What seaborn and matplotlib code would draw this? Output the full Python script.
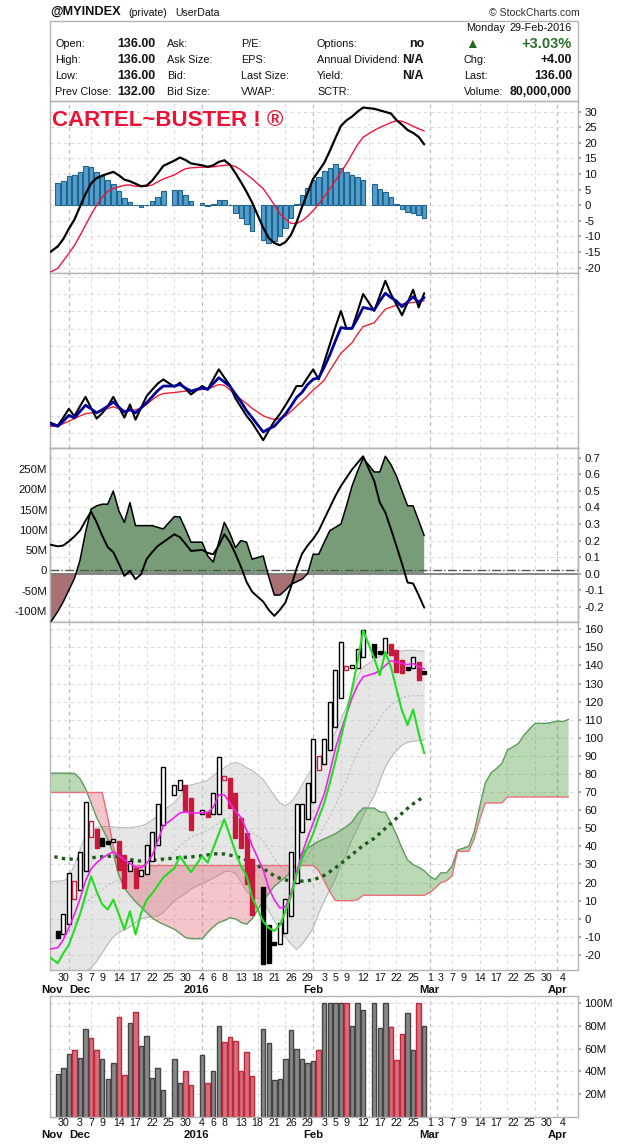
import numpy as np
import pandas as pd
import matplotlib
matplotlib.use("Agg")
import matplotlib.pyplot as plt
import matplotlib.transforms as mtransforms
from matplotlib.patches import Rectangle
import seaborn as sns

# ======================= DATA =======================
HOLIDAYS = ["2015-11-26", "2015-12-25", "2016-01-01", "2016-01-18", "2016-02-15"]
ORIGIN = "2015-11-30"
IND_START, LAST_DAY = "2015-11-25", "2016-02-29"
FUTURE_START, FUTURE_N = "2016-03-01", 26

# header texts
title_sym = "@MYINDEX"
title_sub = ["(private)", "UserData"]
hdr_date = ["Monday", "29-Feb-2016"]
col1_lab = ["Open:", "High:", "Low:", "Prev Close:"]
col1_val = ["136.00", "136.00", "136.00", "132.00"]
col2_lab = ["Ask:", "Ask Size:", "Bid:", "Bid Size:"]
col3_lab = ["P/E:", "EPS:", "Last Size:", "VWAP:"]
col4_lab = ["Options:", "Annual Dividend:", "Yield:", "SCTR:"]
col4_val = ["no", "N/A", "N/A", ""]
col5_lab = ["", "Chg:", "Last:", "Volume:"]
col5_val = ["+3.03%", "+4.00", "136.00", "80,000,000"]
banner = "CARTEL~BUSTER ! \u00ae"

# ---- indicator series: one value per trading day 2015-11-25 .. 2016-02-29 (64) ----
macd_line = [
    -15.8,
    -13.2,
    -10.8, -7.5, -4.6, -0.4, 3.6,
    7.0, 8.7, 9.5, 10.1, 10.7,
    9.6, 8.2, 7.7, 6.9, 6.1,
    6.3, 7.9, 10.2, 12.6,
    14.3, 15.3, 14.5, 13.4,
    12.8, 12.3, 12.8, 13.9, 14.4,
    13.0, 10.3, 7.4, 4.3, 0.9,
    -7.2, -10.5, -12.1, -12.8,
    -11.8, -9.5, -5.5, -0.5, 4.0,
    8.5, 11.0, 13.6, 17.4, 21.5,
    25.4, 27.2, 28.4, 30.0, 31.3,
    30.9, 30.4, 29.9, 29.4,
    27.3, 25.8, 24.1, 23.2, 21.9,
    19.5]
macd_signal = [
    -22.0,
    -20.2,
    -17.8, -15.4, -12.9, -9.7, -6.4,
    -3.0, 0.0, 2.6, 4.5, 5.4,
    5.9, 6.4, 6.5, 6.1, 6.0,
    6.1, 6.5, 7.5, 8.4,
    9.7, 10.8, 11.7, 12.0,
    12.2, 12.2, 12.3, 12.6, 12.8,
    12.9, 12.4, 11.3, 9.9, 8.5,
    5.3, 2.8, 0.1, -2.7,
    -4.4, -5.8, -5.8, -5.0, -3.5,
    -1.7, 0.4, 2.8, 5.3, 7.9,
    10.6, 13.3, 16.4, 19.4, 21.8,
    24.0, 24.9, 25.7, 26.5,
    27.1, 26.9, 26.2, 25.3, 24.5,
    23.8]
p2_black = [
    6.8,
    4.4,
    9.0, 14.0, 9.8, 15.5, 20.9,
    14.5, 8.4, 11.5, 15.5, 20.9,
    15.0, 9.0, 16.5, 7.8, 14.5,
    21.3, 25.0, 28.5, 30.9,
    26.7, 29.0, 25.5, 22.3,
    27.1, 25.2, 31.0, 36.7, 32.0,
    27.5, 20.0, 15.0, 10.0, 6.0,
    -4.0, 1.5, 6.9, 11.0,
    16.0, 21.3, 27.1, 27.1, 32.0,
    36.7, 30.9, 41.0, 51.0, 61.0,
    70.3, 60.2, 60.2, 70.0, 80.0,
    70.3, 79.0, 87.6, 80.0,
    74.0, 67.8, 75.0, 82.5, 72.3,
    80.5]
p2_blue = [
    6.0,
    4.0,
    7.0, 10.3, 8.8, 12.5, 16.1,
    14.0, 11.7, 13.5, 15.5, 18.0,
    15.0, 12.1, 13.6, 11.7, 14.5,
    17.5, 21.0, 24.5, 27.1,
    27.1, 28.0, 26.0, 24.2,
    26.1, 25.2, 28.5, 31.9, 29.5,
    27.0, 22.5, 18.0, 13.0, 9.0,
    0.7, 2.5, 4.0, 7.5,
    11.0, 15.5, 20.5, 23.5, 28.0,
    31.0, 31.9, 38.0, 45.0, 53.0,
    60.7, 60.2, 60.3, 66.0, 72.3,
    70.9, 76.0, 80.5, 78.0,
    76.0, 72.7, 75.5, 78.4, 75.2,
    78.0]
p2_red = [
    4.0,
    4.0,
    5.5, 6.9, 8.4, 9.9, 11.3,
    11.6, 12.0, 13.0, 14.2, 15.2,
    14.0, 13.0, 13.0, 13.4, 14.5,
    16.5, 19.2, 21.5, 22.8,
    23.4, 23.8, 24.2, 24.7,
    25.1, 25.6, 26.6, 28.0, 27.5,
    25.0, 22.0, 19.5, 17.0, 14.3,
    10.0, 8.8, 7.9, 8.5,
    9.8, 12.5, 15.5, 18.5, 21.5,
    24.8, 27.5, 30.5, 36.0, 41.0,
    46.0, 49.0, 52.0, 57.0, 61.3,
    63.5, 67.5, 71.3, 72.5,
    73.6, 74.2, 74.8, 75.2, 75.7,
    76.1]
p3_area = [
    -0.33,
    -0.23,
    -0.17, -0.10, -0.03, 0.08, 0.25,
    0.39, 0.41, 0.42, 0.42, 0.50,
    0.38, 0.31, 0.43, 0.29, 0.29,
    0.29, 0.29, 0.28, 0.27,
    0.345, 0.343, 0.27, 0.19,
    0.19, 0.107, 0.07, 0.19, 0.31,
    0.244, 0.157, 0.20, 0.19, 0.087,
    0.107, -0.02, -0.13, -0.13,
    -0.10, -0.065, -0.05, -0.034, 0.0,
    0.117, 0.117, 0.19, 0.26, 0.28,
    0.30, 0.41, 0.53, 0.62, 0.70,
    0.615, 0.615, 0.71, 0.66,
    0.59, 0.50, 0.41, 0.41, 0.32,
    0.23]
p3_line = [
    0.18,
    0.165,
    0.17, 0.195, 0.225, 0.26, 0.32,
    0.375, 0.31, 0.23, 0.16, 0.13,
    0.06, -0.014, 0.016, -0.034, -0.004,
    0.087, 0.13, 0.167, 0.19,
    0.238, 0.22, 0.18, 0.137,
    0.143, 0.125, 0.117, 0.17, 0.238,
    0.19, 0.12, 0.04, -0.05, -0.11,
    -0.17, -0.22, -0.256, -0.22,
    -0.175, -0.08, 0.03, 0.12, 0.17,
    0.21, 0.26, 0.33, 0.40, 0.47,
    0.53, 0.58, 0.63, 0.67, 0.71,
    0.56, 0.43, 0.37, 0.27,
    0.167, 0.06, -0.054, -0.06, -0.13,
    -0.206]
bb_upper = [
    20.5,
    20.8,
    21.0, 22.5, 30.0, 38.0, 46.5,
    49.5, 50.5, 51.0, 51.0, 50.8,
    50.5, 50.3, 50.3, 50.8, 51.3,
    52.5, 54.5, 57.0, 60.0,
    64.0, 68.0, 72.0, 74.0,
    75.5, 76.5, 79.0, 81.5, 83.5,
    85.5, 86.4, 85.5, 83.5, 82.0,
    77.0, 72.5, 68.0, 64.0,
    62.5, 64.5, 68.5, 74.0, 79.0,
    84.0, 88.0, 93.0, 97.0, 103.0,
    110.0, 117.0, 126.0, 134.0, 139.0,
    143.0, 145.0, 146.6, 147.0,
    147.5, 148.0, 148.4, 148.4, 148.0,
    147.9]
bb_lower = [
    -48.0,
    -44.0,
    -41.0, -38.0, -35.0, -32.0, -29.5,
    -27.0, -23.5, -19.0, -14.0, -10.0,
    -7.5, -6.0, -4.5, -2.0, 0.0,
    0.8, 1.2, 1.5, 3.5,
    10.0, 12.0, 14.0, 16.5,
    19.5, 21.0, 22.5, 24.0, 26.0,
    26.3, 25.0, 20.5, 15.0, 12.5,
    10.0, 4.5, -1.0, -6.0,
    -10.0, -14.0, -17.0, -14.0, -10.0,
    -5.0, 3.0, 10.0, 16.0, 22.0,
    30.0, 36.0, 44.0, 50.0, 57.0,
    68.0, 76.0, 84.0, 89.0,
    93.0, 96.0, 97.5, 98.0, 98.5,
    98.8]
bb_mid = [
    -14.0,
    -11.6,
    -10.0, -7.8, -2.5, 3.0, 8.5,
    11.3, 13.5, 16.0, 18.5, 20.4,
    21.5, 22.2, 23.0, 24.4, 25.7,
    26.7, 27.9, 29.3, 31.8,
    37.0, 40.0, 43.0, 45.3,
    47.5, 48.8, 50.8, 52.8, 54.8,
    56.0, 55.7, 53.0, 49.3, 47.3,
    43.5, 38.5, 33.5, 29.0,
    26.3, 25.3, 25.8, 30.0, 34.5,
    39.5, 45.5, 51.5, 56.5, 62.5,
    70.0, 76.5, 85.0, 92.0, 98.0,
    105.5, 110.5, 115.3, 118.0,
    120.3, 122.0, 123.0, 123.2, 123.3,
    123.4]
ma_fast = [
    -17.0,
    -16.0,
    -11.5, -5.0, 2.5, 11.0, 21.0,
    27.5, 31.0, 33.5, 35.5, 37.0,
    35.0, 32.5, 30.5, 28.5, 28.3,
    30.5, 35.0, 43.0, 51.3,
    56.0, 58.5, 59.0, 58.5,
    58.5, 58.8, 61.5, 68.5, 68.5,
    64.0, 59.5, 56.0, 49.0, 40.5,
    27.0, 17.0, 10.5, 6.0,
    6.5, 14.0, 26.0, 36.0, 45.0,
    53.0, 61.0, 69.0, 81.0, 94.0,
    104.0, 113.0, 122.0, 129.0, 133.7,
    135.6, 137.0, 140.0, 142.5,
    142.0, 141.0, 140.5, 141.0, 139.5,
    138.0]
green_line = [
    -20.0,
    -24.5,
    -19.0, -14.4, -6.0, 2.5, 13.0,
    23.5, 15.0, 8.0, 5.1, 10.6,
    2.5, -5.9, 4.2, -8.7, 3.0,
    10.3, 14.0, 18.3, 22.8,
    28.0, 34.6, 30.0, 25.8,
    34.6, 31.0, 39.0, 47.0, 55.0,
    46.0, 37.0, 29.0, 24.0, 12.0,
    -1.5, -5.0, -6.8, -3.5,
    4.0, 12.5, 24.0, 33.0, 40.0,
    47.0, 56.0, 64.0, 75.0, 87.0,
    100.0, 113.0, 127.0, 142.0, 159.4,
    144.0, 134.6, 147.5, 139.2,
    127.0, 115.0, 107.1, 115.7, 102.5,
    91.5]
ma_slow = [
    34.6,
    34.0,
    33.3, 33.0, 32.9, 33.0, 33.3,
    33.7, 34.0, 34.3, 34.5, 34.6,
    34.2, 33.5, 32.8, 32.2, 31.9,
    31.9, 32.2, 32.6, 33.0,
    33.5, 33.7, 34.0, 34.2,
    34.8, 35.3, 35.8, 36.0, 35.8,
    35.2, 34.5, 33.6, 32.4, 31.0,
    27.8, 25.7, 23.8, 22.4,
    21.5, 21.0, 20.8, 20.8, 21.0,
    21.6, 22.6, 24.0, 26.0, 28.2,
    30.5, 33.0, 35.5, 38.0, 40.5,
    44.5, 47.2, 50.0, 52.7,
    55.5, 58.3, 61.0, 63.5, 65.6,
    67.3]
senkou_a = [
    80.5,
    80.5,
    80.5, 80.5, 80.3, 77.5, 72.0,
    64.0, 56.0, 50.0, 44.0, 36.0,
    24.0, 17.0, 13.0, 9.5, 6.5,
    3.5, 0.5, -1.5, -3.0,
    -5.8, -8.0, -10.4, -11.0,
    -11.0, -7.5, -4.5, -2.0, -1.0,
    0.5, 0.0, -2.0, -3.0, 0.0,
    10.0, 14.0, 18.0, 20.5,
    23.0, 25.5, 31.0, 36.5, 39.0,
    41.0, 42.8, 44.2, 45.6, 47.0,
    49.0, 51.0, 53.5, 58.0, 61.2,
    61.2, 59.0, 58.8, 53.0,
    46.5, 39.0, 32.5, 30.0, 28.5,
    26.5]
senkou_b = [
    69.8,
    69.8,
    69.8, 69.8, 69.8, 69.8, 69.8,
    69.8, 69.8, 69.8, 56.0, 40.0,
    29.4, 29.4, 29.4, 29.4, 29.4,
    29.4, 29.4, 29.4, 29.4,
    29.4, 29.4, 29.4, 29.4,
    29.4, 29.4, 29.4, 29.4, 29.4,
    29.4, 29.4, 29.4, 29.4, 29.4,
    29.4, 29.4, 29.4, 29.4,
    29.4, 29.4, 29.4, 29.4, 29.4,
    29.4, 26.5, 21.0, 15.0, 10.0,
    10.0, 10.0, 10.0, 10.5, 13.0,
    13.0, 13.0, 13.0, 13.0,
    13.0, 13.0, 13.0, 13.0, 13.0,
    13.0]
# projected cloud, 26 weekdays from 2016-03-01
senkou_a_future = [23.5, 21.7, 25.4, 25.4, 29.0, 38.0, 39.0, 40.0, 48.0, 62.0,
                   75.0, 80.5, 83.0, 86.0, 93.3, 95.0, 97.0, 101.6, 105.0, 108.0,
                   108.0, 108.0, 108.5, 109.3, 109.0, 110.2]
senkou_b_future = [14.5, 17.0, 20.0, 21.0, 23.6, 37.3, 37.3, 37.3, 44.0, 55.0,
                   64.0, 64.0, 64.0, 64.0, 67.3, 67.3, 67.3, 67.3, 67.3, 67.3,
                   67.3, 67.3, 67.3, 67.3, 67.3, 67.3]

# ---- price / volume: one value per trading day 2015-11-27 .. 2016-02-29 (63) ----
open_px = [
    -7.0,
    -8.6, -3.0, 11.0, 16.0, 26.5,
    45.0, 49.6, 44.7, 42.3, 42.3,
    42.8, 35.5, 26.3, 28.0, 23.5,
    25.0, 31.8, 41.0, 52.0,
    68.5, 71.3, 74.0, 66.7,
    58.0, 58.8, 58.0, 58.0, 76.5,
    77.8, 69.5, 55.7, 47.3, 33.1,
    17.7, -3.6, -13.7, -13.7,
    -7.6, 1.5, 19.5, 48.0, 55.0,
    64.3, 82.0, 85.6, 93.0, 105.8,
    121.8, 137.4, 138.5, 138.7, 144.4,
    152.0, 148.0, 146.6, 151.7,
    148.4, 142.9, 138.7, 138.7, 142.0,
    136.0]
close_px = [
    -10.4,
    2.4, 25.4, 20.8, 37.0, 64.5,
    54.0, 39.0, 40.1, 42.3, 44.1,
    27.2, 17.1, 31.8, 17.1, 26.8,
    41.0, 47.8, 63.4, 84.1,
    74.0, 76.8, 59.3, 49.3,
    59.9, 56.2, 69.5, 89.3, 79.0,
    61.3, 44.5, 39.2, 19.0, 1.9,
    -25.1, -24.6, -13.7, -2.5,
    11.1, 36.8, 63.4, 63.4, 75.3,
    99.4, 89.7, 99.4, 119.6, 137.4,
    152.7, 139.6, 140.0, 149.3, 159.4,
    144.4, 146.6, 155.4, 145.7,
    136.5, 135.6, 138.0, 144.4, 132.0,
    136.0]
down_day = [  # 1 = closed below previous close (red)
    0,
    0, 0, 1, 0, 0,
    1, 1, 0, 0, 0,
    1, 1, 0, 1, 0,
    0, 0, 0, 0,
    0, 0, 1, 1,
    0, 1, 0, 0, 1,
    1, 1, 1, 1, 1,
    0, 0, 0, 0,
    0, 0, 0, 0, 0,
    0, 1, 0, 0, 0,
    0, 1, 0, 0, 0,
    0, 0, 0, 1,
    1, 1, 0, 0, 1,
    0]
volume_m = [
    38,
    43, 55, 59, 52, 77,
    69, 59, 51, 33, 47,
    88, 37, 82, 92, 62,
    71, 34, 43, 24,
    51, 30, 40, 28,
    54, 30, 40, 80, 66,
    70, 67, 40, 57, 36,
    77, 65, 32, 33,
    51, 76, 60, 51, 47,
    49, 59, 100, 100, 100,
    100, 100, 80, 100, 94,
    100, 78, 100, 79,
    50, 73, 91, 59, 100,
    80]
macd_hist = [
    7.0,
    7.9, 9.5, 9.8, 10.8, 12.6,
    12.3, 10.8, 9.5, 8.1, 6.8,
    4.6, 2.3, 1.1, 0.1, -0.4,
    0.2, 1.4, 2.6, 4.6,
    5.0, 5.0, 3.2, 1.4,
    0.8, -0.1, 0.4, 1.7, 1.7,
    0.1, -2.4, -4.0, -5.9, -8.1,
    -11.0, -12.1, -11.5, -9.9,
    -7.4, -4.0, 0.3, 3.2, 5.5,
    8.2, 9.2, 10.9, 12.0, 13.1,
    12.0, 10.8, 9.8, 9.2, 8.0,
    6.8, 5.2, 4.3, 2.7,
    0.5, -1.1, -2.2, -2.5, -3.2,
    -4.0]

# axis labels
day_label_dates = ["2015-11-30", "2015-12-03", "2015-12-07", "2015-12-09", "2015-12-14",
                   "2015-12-17", "2015-12-22", "2015-12-25", "2015-12-30", "2016-01-04",
                   "2016-01-06", "2016-01-08", "2016-01-13", "2016-01-18", "2016-01-21",
                   "2016-01-26", "2016-01-29", "2016-02-03", "2016-02-05", "2016-02-09",
                   "2016-02-12", "2016-02-17", "2016-02-22", "2016-02-25", "2016-03-01",
                   "2016-03-03", "2016-03-07", "2016-03-09", "2016-03-14", "2016-03-17",
                   "2016-03-22", "2016-03-25", "2016-03-30", "2016-04-04"]
month_labels = ["Nov", "Dec", "2016", "Feb", "Mar", "Apr"]
month_label_dates = ["2015-11-26", "2015-12-03", "2016-01-01", "2016-02-01", "2016-03-01", "2016-04-01"]
month_line_dates = ["2015-12-01", "2016-01-04", "2016-02-01", "2016-03-01", "2016-04-01"]
p1_ticks = [-20, -15, -10, -5, 0, 5, 10, 15, 20, 25, 30]
p3_left_ticks = [-100, -50, 0, 50, 100, 150, 200, 250]
p3_right_ticks = [-0.2, -0.1, 0.0, 0.1, 0.2, 0.3, 0.4, 0.5, 0.6, 0.7]
p4_ticks = list(range(-20, 161, 10))
vol_ticks = [20, 40, 60, 80, 100]

# ======================= HELPERS =======================
def slot(dates):
    d = pd.DatetimeIndex(pd.to_datetime(dates)).values.astype("datetime64[D]")
    return np.busday_count(np.datetime64(ORIGIN), d).astype(float)

ind_dates = pd.bdate_range(IND_START, LAST_DAY).difference(pd.DatetimeIndex(HOLIDAYS))
price_dates = ind_dates[1:]
future_dates = pd.bdate_range(FUTURE_START, periods=FUTURE_N)
xi = slot(ind_dates)
xp = slot(price_dates)
xf = slot(future_dates)

sns.set_theme(style="white")
plt.rcParams["font.family"] = ["Liberation Sans", "DejaVu Sans"]
plt.rcParams["axes.unicode_minus"] = False

W, H = 620.0, 1144.0
L, R = 50, 578
XMIN, XMAX = -2.4, 92.7
GRID, MGRID, DASH = "#dcdcdc", "#bcbcbc", (0, (3, 3))
RED = "#c8193c"
TXT = "#111111"

fig = plt.figure(figsize=(6.2, 11.44), dpi=100)
fig.patch.set_facecolor("white")

def add_ax(top, bottom):
    return fig.add_axes([L / W, 1 - bottom / H, (R - L) / W, (bottom - top) / H])

month_lines = slot(month_line_dates)
mondays = slot(pd.date_range("2015-11-30", "2016-04-11", freq="W-MON"))
week_lines = [m for m in mondays if np.min(np.abs(month_lines - m)) > 1.5]

def base_style(ax, ygrid):
    ax.set_facecolor("white")
    for sp in ax.spines.values():
        sp.set_color("#b5b5b5")
        sp.set_linewidth(1.0)
    for xv in week_lines:
        ax.axvline(xv, color=GRID, lw=0.8, ls=DASH, zorder=0)
    for xv in month_lines:
        ax.axvline(xv, color=MGRID, lw=0.9, ls=DASH, zorder=0)
    for yv in ygrid:
        ax.axhline(yv, color=GRID, lw=0.8, ls=DASH, zorder=0)
    ax.set_xticks([])
    ax.tick_params(axis="y", length=2, pad=2.5, labelsize=8.2, colors="#999999", labelcolor=TXT)

def finish(ax, ylim):
    ax.set_xlim(XMIN, XMAX)
    ax.set_ylim(*ylim)
    ax.set_xlabel("")
    ax.set_ylabel("")

def line(ax, x, y, **kw):
    sns.lineplot(x=np.asarray(x), y=np.asarray(y, float), ax=ax, legend=False, **kw)

def ftext(x, y, s, **kw):
    kw.setdefault("va", "center")
    kw.setdefault("color", TXT)
    fig.text(x / W, 1 - y / H, s, **kw)

# ======================= HEADER =======================
ftext(50, 12, title_sym, fontsize=9.2, fontweight="bold", ha="left")
ftext(128, 12.5, title_sub[0], fontsize=7.6, ha="left")
ftext(175, 12.5, title_sub[1], fontsize=7.6, ha="left")
ftext(580, 12.5, "\u00a9 StockCharts.com", fontsize=7.6, ha="right", color="#333333")
fig.add_artist(Rectangle((L / W, 1 - 101 / H), (R - L) / W, 80 / H, transform=fig.transFigure,
                         fill=False, edgecolor="#b5b5b5", linewidth=1.0))
ftext(466, 28, hdr_date[0], fontsize=7.8, ha="left")
ftext(572, 28, hdr_date[1], fontsize=7.8, ha="right")
rows_y = [44, 60, 76, 92]
for i, y in enumerate(rows_y):
    ftext(55, y, col1_lab[i], fontsize=7.8, ha="left")
    ftext(155, y, col1_val[i], fontsize=8.9, fontweight="bold", ha="right")
    ftext(167, y, col2_lab[i], fontsize=7.8, ha="left")
    ftext(241, y, col3_lab[i], fontsize=7.8, ha="left")
    ftext(317, y, col4_lab[i], fontsize=7.8, ha="left")
    ftext(424, y, col4_val[i], fontsize=8.9, fontweight="bold", ha="right")
    ftext(464, y, col5_lab[i], fontsize=7.8, ha="left")
    if i == 0:
        ftext(572, y, col5_val[i], fontsize=10.5, fontweight="bold", ha="right", color="#2b6e2b")
    else:
        ftext(572, y, col5_val[i], fontsize=8.9, fontweight="bold", ha="right")
ftext(472, 44, "\u25b2", fontsize=10, ha="center", color="#236b23")

# ======================= PANEL 1 (MACD) =======================
ax1 = add_ax(101, 273)
base_style(ax1, p1_ticks)
ax1.bar(xp, macd_hist, width=0.82, color="#519fcd", edgecolor="#24638b", linewidth=0.8, zorder=2)
line(ax1, xi, macd_signal, color="#f0143c", linewidth=1.0, zorder=3)
line(ax1, xi, macd_line, color="black", linewidth=1.6, zorder=4)
ax1.yaxis.tick_right()
ax1.set_yticks(p1_ticks)
ax1.set_yticklabels([str(t) for t in p1_ticks])
finish(ax1, (-21.7, 33.4))
ftext(52, 120, banner, fontsize=16, fontweight="bold", ha="left", color="#ee1133")

# ======================= PANEL 2 =======================
ax2 = add_ax(273, 448)
base_style(ax2, range(0, 91, 10))
line(ax2, xi, p2_red, color="#ee2233", linewidth=1.0, zorder=3)
line(ax2, xi, p2_black, color="black", linewidth=1.5, zorder=4)
line(ax2, xi, p2_blue, color="#000099", linewidth=2.0, zorder=5)
ax2.set_yticks([])
finish(ax2, (-8.5, 92.1))

# ======================= PANEL 3 =======================
ax3 = add_ax(448, 622)
base_style(ax3, [])
ax3.set_yticks(p3_left_ticks)
ax3.set_yticklabels([("%dM" % t) if t != 0 else "0" for t in p3_left_ticks])
ax3.tick_params(axis="y", length=0, pad=2)
finish(ax3, (-127.7, 301.9))
ax3r = ax3.twinx()
for sp in ax3r.spines.values():
    sp.set_color("#b5b5b5")
    sp.set_linewidth(1.0)
for yv in p3_right_ticks:
    ax3r.axhline(yv, color=GRID, lw=0.8, ls=DASH, zorder=0)
area = np.asarray(p3_area)
ax3r.fill_between(xi, area, 0, where=area >= 0, interpolate=True, color="#789c78", linewidth=0, zorder=1)
ax3r.fill_between(xi, area, 0, where=area <= 0, interpolate=True, color="#a87272", linewidth=0, zorder=1)
ax3r.axhline(0, color="#777777", lw=1.2, zorder=2)
ax3r.plot([0, 1], [0, 0], transform=mtransforms.blended_transform_factory(ax3r.transAxes, ax3.transData),
          color="#555555", lw=1.0, ls="-.", zorder=2)
line(ax3r, xi, p3_area, color="black", linewidth=1.1, zorder=3)
line(ax3r, xi, p3_line, color="black", linewidth=1.4, zorder=4)
ax3r.set_yticks(p3_right_ticks)
ax3r.set_yticklabels(["%.1f" % t for t in p3_right_ticks])
ax3r.tick_params(axis="y", length=2, pad=2.5, labelsize=8.2, colors="#999999", labelcolor=TXT)
finish(ax3r, (-0.293, 0.76))

# ======================= PANEL 4 (price) =======================
ax4 = add_ax(622, 970)
base_style(ax4, p4_ticks)
bu, bl = np.asarray(bb_upper), np.asarray(bb_lower)
ax4.fill_between(xi, bl, bu, color="#c8c8c8", alpha=0.45, linewidth=0, zorder=1)
line(ax4, xi, bb_upper, color="#bbbbbb", linewidth=0.8, zorder=1.5)
line(ax4, xi, bb_lower, color="#bbbbbb", linewidth=0.8, zorder=1.5)
line(ax4, xi, bb_mid, color="#bdbdbd", linewidth=0.8, linestyle=(0, (2, 2)), zorder=1.5)
xc = np.concatenate([xi, xf])
sa = np.concatenate([senkou_a, senkou_a_future])
sb = np.concatenate([senkou_b, senkou_b_future])
ax4.fill_between(xc, sa, sb, where=sa >= sb, interpolate=True, color="#4a9a3a", alpha=0.38, linewidth=0, zorder=2)
ax4.fill_between(xc, sa, sb, where=sa <= sb, interpolate=True, color="#e05a6a", alpha=0.35, linewidth=0, zorder=2)
line(ax4, xc, sa, color="#5f9a5f", linewidth=1.0, zorder=2.5)
line(ax4, xc, sb, color="#e8707a", linewidth=1.0, zorder=2.5)
line(ax4, xi, ma_slow, color="#1e5a1e", linewidth=2.4, linestyle=(0, (1, 1.3)), zorder=3)
# candles
o, c = np.asarray(open_px), np.asarray(close_px)
dn = np.asarray(down_day).astype(bool)
edge = np.where(dn, RED, "black")
filled = c <= o
face = np.where(filled, edge, "white")
flat = np.abs(c - o) < 1.6
bottom = np.where(flat, (o + c) / 2 - 0.8, np.minimum(o, c))
height = np.where(flat, 1.6, np.abs(c - o))
ax4.bar(xp, height, bottom=bottom, width=0.72, color=list(face), edgecolor=list(edge), linewidth=1.0, zorder=4)
line(ax4, xi, ma_fast, color="#ee22ee", linewidth=1.2, zorder=5)
line(ax4, xi, green_line, color="#22dd22", linewidth=1.5, zorder=6)
ax4.yaxis.tick_right()
ax4.set_yticks(p4_ticks)
ax4.set_yticklabels([str(t) for t in p4_ticks])
finish(ax4, (-28.3, 164.0))

# ======================= VOLUME =======================
ax5 = add_ax(996, 1117)
base_style(ax5, vol_ticks)
vface = np.where(dn, "#d5707c", "#888888")
vedge = np.where(dn, "#c0283c", "#444444")
ax5.bar(xp, volume_m, width=0.8, color=list(vface), edgecolor=list(vedge), linewidth=1.0, zorder=2)
ax5.yaxis.tick_right()
ax5.set_yticks(vol_ticks)
ax5.set_yticklabels(["%dM" % t for t in vol_ticks])
finish(ax5, (0, 106))

# x labels (days + months) below price panel and volume panel
day_pos = slot(day_label_dates)
day_txt = [str(pd.Timestamp(d).day) for d in day_label_dates]
mon_pos = slot(month_label_dates)
for ax, dday, dmon in ((ax4, -5.8, -14.4), (ax5, -4.6, -12.6)):
    for p, t in zip(day_pos, day_txt):
        ax.annotate(t, xy=(p, 0), xycoords=("data", "axes fraction"), xytext=(0, dday),
                    textcoords="offset points", ha="center", va="center", fontsize=7.7, color=TXT,
                    annotation_clip=False)
    for p, t in zip(mon_pos, month_labels):
        ax.annotate(t, xy=(p, 0), xycoords=("data", "axes fraction"), xytext=(0, dmon),
                    textcoords="offset points", ha="center", va="center", fontsize=8.2,
                    fontweight="bold", color=TXT, annotation_clip=False)

fig.savefig("out.png", dpi=100, facecolor="white")
